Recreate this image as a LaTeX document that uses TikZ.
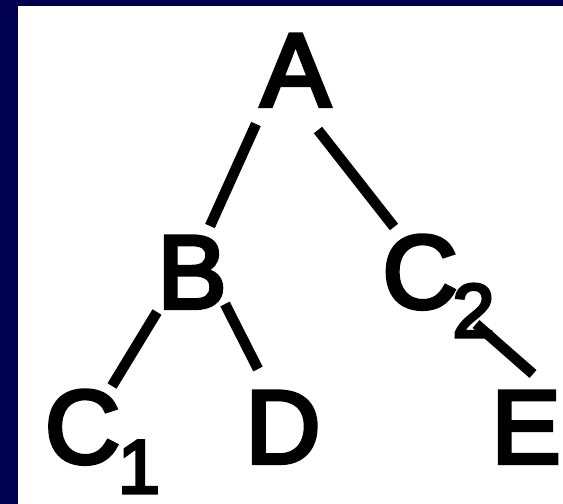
\documentclass[tikz,border=0pt]{standalone}
\usepackage{fontspec}
\setmainfont{Liberation Sans}
\newfontfamily\labelfont[FakeBold=4]{Liberation Sans}
\definecolor{navyborder}{RGB}{0,0,80}
\begin{document}
\begin{tikzpicture}[x=1pt,y=-1pt,
  lbl/.style={inner sep=0pt,anchor=base,font=\labelfont\fontsize{104}{104}\selectfont},
  sublbl/.style={inner sep=0pt,anchor=base,font=\labelfont\fontsize{76}{76}\selectfont},
  edge/.style={line width=10.5pt,line cap=butt}]
\useasboundingbox (0,0) rectangle (563,504);
\fill[navyborder] (0,0) rectangle (563,504);
\fill[white] (18,6) rectangle (563,504);
% labels
\node[lbl] (A) at (295.5,106) {A};
\node[lbl] (B) at (192,308) {B};
\node[lbl] (C2) at (420,308) {C};
\node[sublbl] (s2) at (473.5,337) {2};
\node[lbl] (C1) at (82.5,463) {C};
\node[sublbl] (s1) at (139,493) {1};
\node[lbl] (D) at (283,463) {D};
\node[lbl] (E) at (526,463) {E};
% connector ends
\coordinate (ab1) at (256,124);
\coordinate (ab2) at (210,226);
\coordinate (ac1) at (318,130);
\coordinate (ac2) at (394,227);
\coordinate (bc1) at (157,312);
\coordinate (bc2) at (112,386);
\coordinate (bd1) at (225,304);
\coordinate (bd2) at (258,369);
\coordinate (ce1) at (476,324);
\coordinate (ce2) at (533,374);
\draw[edge] (ab1) -- (ab2);
\draw[edge] (ac1) -- (ac2);
\draw[edge] (bc1) -- (bc2);
\draw[edge] (bd1) -- (bd2);
\draw[edge] (ce1) -- (ce2);
\end{tikzpicture}
\end{document}
